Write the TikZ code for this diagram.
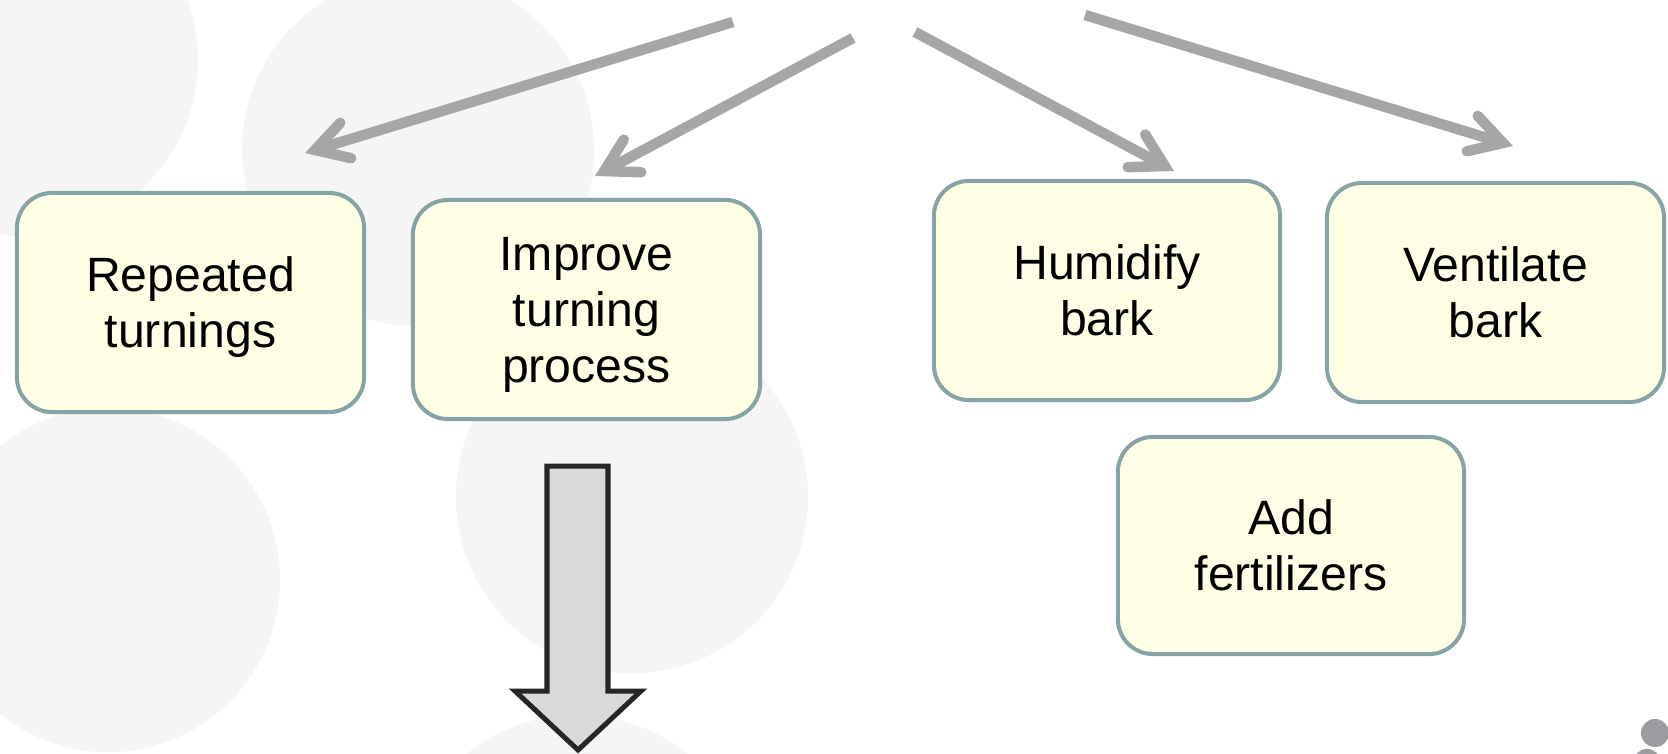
\documentclass[tikz,border=0pt]{standalone}
\usepackage{fontspec}
\setmainfont{Liberation Sans}
\usetikzlibrary{calc}

\definecolor{bgcircle}{RGB}{245,245,245}
\definecolor{boxfill}{RGB}{255,255,229}
\definecolor{boxline}{RGB}{135,163,166}
\definecolor{linkgray}{RGB}{166,166,166}
\definecolor{bigfill}{RGB}{217,217,217}
\definecolor{bigline}{RGB}{38,38,38}
\definecolor{dotgray}{RGB}{155,155,160}

% struts giving every label the same ascent and descent
\newcommand{\boxtop}{\rule{0pt}{0.905em}}
\newcommand{\boxbot}{\rule[-0.212em]{0pt}{0.212em}}

\begin{document}
\begin{tikzpicture}[x=0.01cm, y=-0.01cm,
  stepbox/.style={draw=boxline, line width=0.04cm, fill=boxfill,
    rounded corners=0.35cm, minimum width=3.47cm, minimum height=2.19cm,
    align=center, inner sep=0pt, text=black,
    font=\fontsize{13.7pt}{15.93pt}\selectfont},
  shaft/.style={draw=linkgray, line width=0.105cm, line cap=butt},
  barb/.style={draw=linkgray, line width=0.105cm, line cap=round, line join=miter},
  blob/.style={fill=bgcircle},
  dot/.style={fill=dotgray},
  bigarrow/.style={draw=bigline, fill=bigfill, line width=0.05cm, line join=miter},
]
\useasboundingbox (0,0) rectangle (1668,754);
\clip (0,0) rectangle (1668,754);

% soft background discs
\fill[blob] (22,60) circle[radius=1.76cm];
\fill[blob] (418,150) circle[radius=1.76cm];
\fill[blob] (108,580) circle[radius=1.72cm];
\fill[blob] (632,497) circle[radius=1.76cm];
\fill[blob] (577,891) circle[radius=1.76cm];

% small dots in the lower right corner
\fill[dot] (1655,733) circle[radius=0.14cm];
\fill[dot] (1647,763) circle[radius=0.14cm];

% open-headed gray links
\coordinate (s1) at (733,22);  \coordinate (t1) at (305,153);
\coordinate (s2) at (853,38);  \coordinate (t2) at (595,176);
\coordinate (s3) at (915,32);  \coordinate (t3) at (1174,171);
\coordinate (s4) at (1085,15); \coordinate (t4) at (1513,146);
\foreach \s/\t in {s1/t1, s2/t2, s3/t3, s4/t4} {
  \coordinate (v) at ($(\t)!0.105cm!(\s)$);
  \draw[shaft] (\s) -- (v);
  \draw[barb] ($(v)!0.37cm!30:(\s)$) -- (v) -- ($(v)!0.37cm!-30:(\s)$);
}

% measure boxes
\node[stepbox] (rep) at (190.5,302.5) {\boxtop Repeated\\turnings\boxbot};
\node[stepbox] (imp) at (586.5,309.5) {\boxtop Improve\\turning\\process\boxbot};
\node[stepbox, minimum width=3.46cm] (hum) at (1107,290.5) {\boxtop Humidify\\bark\boxbot};
\node[stepbox, minimum width=3.37cm] (ven) at (1495.5,292.5) {\boxtop Ventilate\\bark\boxbot};
\node[stepbox, minimum width=3.46cm, minimum height=2.17cm] (fer) at (1291,545.5) {\boxtop Add\\fertilizers\boxbot};

% block arrow below the turning box
\draw[bigarrow] (547,466) -- (608,466) -- (608,691) -- (641,691)
  -- (578,750) -- (515,691) -- (547,691) -- cycle;
\end{tikzpicture}
\end{document}
